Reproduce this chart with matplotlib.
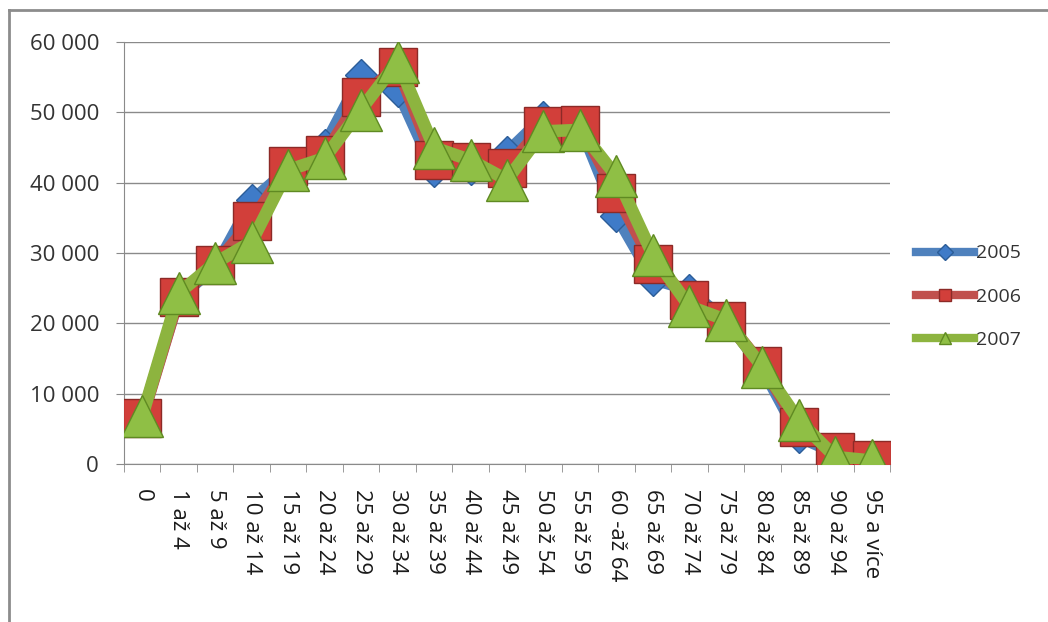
import matplotlib
matplotlib.use("Agg")
import matplotlib.pyplot as plt
from matplotlib.lines import Line2D
from matplotlib.ticker import FuncFormatter
import numpy as np

plt.rcParams['font.family'] = ['Open Sans', 'DejaVu Sans']

# age groups on the x axis
groups = ['0', '1 až 4', '5 až 9', '10 až 14', '15 až 19', '20 až 24',
          '25 až 29', '30 až 34', '35 až 39', '40 až 44', '45 až 49',
          '50 až 54', '55 až 59', '60 -až 64', '65 až 69', '70 až 74',
          '75 až 79', '80 až 84', '85 až 89', '90 až 94', '95 a více']

# values per year
y2005 = [6500, 23500, 28000, 37500, 42000, 45400, 55300, 53000, 41600, 42000,
         44400, 49400, 48000, 35200, 26200, 24700, 20500, 13500, 3800, 1500, 400]
y2006 = [6600, 23750, 28300, 34500, 42300, 44000, 52200, 56500, 43200, 43000,
         42100, 48000, 48200, 38500, 28400, 23300, 20400, 14000, 5300, 1700, 600]
y2007 = [6800, 24300, 28600, 31600, 41800, 43500, 50400, 57200, 45000, 43200,
         40400, 47300, 47500, 40900, 29700, 22400, 20500, 13800, 6200, 1000, 500]

fig = plt.figure(figsize=(10.48, 6.22), dpi=100)
ax = fig.add_axes([124 / 1048, 1 - 464 / 622, 766 / 1048, 422 / 622])

x = np.arange(len(groups))

ax.plot(x, y2005, color='#4F81BD', lw=8, marker='D', markersize=16,
        markerfacecolor='#3f7bc8', markeredgecolor='#2c5d98', markeredgewidth=1,
        solid_joinstyle='miter', zorder=3)
ax.plot(x, y2006, color='#C0504D', lw=9, marker='s', markersize=27,
        markerfacecolor='#d23f3a', markeredgecolor='#8c2a27', markeredgewidth=1,
        solid_joinstyle='miter', zorder=4)
ax.plot(x, y2007, color='#8DB43F', lw=9, marker='^', markersize=30,
        markerfacecolor='#8fbf45', markeredgecolor='#5f8a22', markeredgewidth=1,
        solid_joinstyle='miter', zorder=5)

ax.set_xlim(-0.5, len(groups) - 0.5)
ax.set_ylim(0, 60000)
ax.set_yticks(np.arange(0, 60001, 10000))
ax.yaxis.set_major_formatter(FuncFormatter(lambda v, p: f"{int(v):,}".replace(',', ' ')))
ax.grid(axis='y', color='#8a8a8a', lw=1)
ax.set_axisbelow(True)

ax.set_xticks(x)
ax.set_xticklabels(groups, rotation=-90, va='top', ha='center')
ax.set_xticks(np.arange(-0.5, len(groups), 1), minor=True)
ax.tick_params(axis='x', which='major', length=0, pad=18, labelsize=16, colors='#1a1a1a')
ax.tick_params(axis='x', which='minor', length=6, color='#8a8a8a', direction='out')
ax.tick_params(axis='y', length=6, color='#8a8a8a', labelsize=16, pad=12, labelcolor='#333333')

for s in ['top', 'right']:
    ax.spines[s].set_visible(False)
for s in ['left', 'bottom']:
    ax.spines[s].set_color('#8a8a8a')

# legend with small markers on thick lines
handles = [
    Line2D([], [], color='#4F81BD', lw=6, marker='D', markersize=8,
           markerfacecolor='#3f7bc8', markeredgecolor='#2c5d98'),
    Line2D([], [], color='#C0504D', lw=6, marker='s', markersize=9,
           markerfacecolor='#d23f3a', markeredgecolor='#8c2a27'),
    Line2D([], [], color='#8DB43F', lw=6, marker='^', markersize=9,
           markerfacecolor='#8fbf45', markeredgecolor='#5f8a22'),
]
leg = fig.legend(handles, ['2005', '2006', '2007'], loc='center left',
                 bbox_to_anchor=(0.857, 0.523), frameon=False, fontsize=14,
                 handlelength=3.0, labelspacing=1.3, handletextpad=0.1)
for t in leg.get_texts():
    t.set_color('#333333')

# chart frame (left and top edges)
fig.add_artist(Line2D([9 / 1048, 9 / 1048], [0, 1 - 10 / 622], color='#8c8c8c', lw=2))
fig.add_artist(Line2D([9 / 1048, 1], [1 - 10 / 622, 1 - 10 / 622], color='#8c8c8c', lw=2))

fig.savefig('out.png', dpi=100)
